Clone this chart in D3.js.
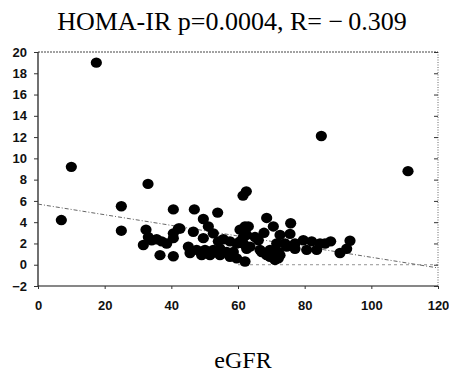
<!DOCTYPE html>
<html>
<head>
<meta charset="utf-8">
<script src="https://cdn.jsdelivr.net/npm/d3@7"></script>
<style>
  body { margin: 0; background: #fff; }
  .tick text { font-family: "Liberation Sans", Arial, sans-serif; font-weight: bold; font-size: 13px; fill: #111; }
  .tick line { stroke: #333; }
</style>
</head>
<body>
<script>
// eGFR (x) and HOMA-IR (y)
const egfr = [17.5, 10, 85, 111, 33, 61.5, 62.5, 25, 7, 25,
  40.6, 46.9, 53.9, 49.6, 51.1, 46.6, 42.1, 40.6, 32.4, 33.1, 35.6, 38.6, 31.6, 36.6, 40.6,
  45.1, 47.6, 50.1, 52.6, 54.1, 52.6, 57.6, 56.6, 59.6, 60.6, 62.1, 61.6, 62.1,
  45.6, 49.1, 51.6, 54.6, 57.6, 59.6,
  40.6, 37.1, 34.1, 42.6, 52.1, 54.6, 58.6, 55.6, 60.6, 62.6, 62.6, 49.6,
  68.6, 75.8, 70.6, 67.8, 75.6, 65.1, 72.6, 71.6, 79.6, 82.1, 84.6, 87.8, 93.6, 92.6, 90.6,
  74.6, 77.1, 80.6, 83.6, 69.6, 66.6, 63.6, 72.6, 71.1, 68.6, 61.6,
  63.1, 66.1, 74.1, 77.1, 86.1, 72.1, 67.1, 69.6, 72.1];
const homa = [19.0, 9.2, 12.1, 8.8, 7.6, 6.5, 6.9, 5.5, 4.2, 3.2,
  5.2, 5.2, 4.9, 4.3, 3.6, 3.1, 3.4, 2.95, 3.3, 2.6, 2.4, 2.0, 1.85, 0.9, 0.8,
  1.7, 1.4, 1.4, 1.4, 2.2, 2.95, 2.2, 1.2, 2.0, 3.3, 3.6, 2.6, 0.3,
  1.1, 0.9, 0.9, 0.9, 0.75, 0.6,
  2.5, 2.2, 2.3, 3.4, 1.2, 1.5, 1.2, 2.4, 2.2, 1.5, 2.8, 2.5,
  4.4, 3.9, 3.6, 3.0, 2.9, 2.6, 2.8, 2.0, 2.3, 2.2, 2.0, 2.2, 2.25, 1.5, 1.1,
  1.7, 1.5, 1.4, 1.4, 1.4, 1.4, 1.7, 0.9, 0.45, 0.9, 2.0,
  3.6, 2.3, 2.0, 2.0, 2.0, 1.2, 1.2, 0.75, 0.6];

// fitted line end points (x, y)
const fitX = [0, 120];
const fitY = [5.7, -0.3];

const xTicks = [0, 20, 40, 60, 80, 100, 120];
const yTicks = [-2, 0, 2, 4, 6, 8, 10, 12, 14, 16, 18, 20];

const titleText = "HOMA-IR p=0.0004, R= \u2212\u20090.309";
const xLabel = "eGFR";

const W = 449, H = 375;
const m = {left: 38, right: 11, top: 52, bottom: 89};

const svg = d3.select("body").append("svg")
  .attr("width", W).attr("height", H);

const x = d3.scaleLinear().domain([0, 120]).range([m.left, W - m.right]);
const y = d3.scaleLinear().domain([-2, 20]).range([H - m.bottom, m.top]);

// frame: top and right dotted, left and bottom solid
svg.append("line")
  .attr("x1", x(0)).attr("x2", x(120)).attr("y1", y(20)).attr("y2", y(20))
  .attr("stroke", "#444").attr("stroke-dasharray", "2,1");
svg.append("line")
  .attr("x1", x(120)).attr("x2", x(120)).attr("y1", y(20)).attr("y2", y(-2))
  .attr("stroke", "#666").attr("stroke-dasharray", "1,1.5");
svg.append("line")
  .attr("x1", x(0)).attr("x2", x(0)).attr("y1", y(20)).attr("y2", y(-2))
  .attr("stroke", "#111").attr("stroke-width", 1.2);
svg.append("line")
  .attr("x1", x(0)).attr("x2", x(120)).attr("y1", y(-2)).attr("y2", y(-2))
  .attr("stroke", "#111").attr("stroke-width", 1.2);

// axes
const yAxis = svg.append("g")
  .attr("transform", "translate(" + x(0) + ",0)")
  .call(d3.axisLeft(y).tickValues(yTicks).tickSize(4).tickPadding(7));
yAxis.select(".domain").remove();

const yAxisR = svg.append("g")
  .attr("transform", "translate(" + x(120) + ",0)")
  .call(d3.axisLeft(y).tickValues(yTicks).tickSize(4).tickFormat(""));
yAxisR.select(".domain").remove();

const xAxis = svg.append("g")
  .attr("transform", "translate(0," + y(-2) + ")")
  .call(d3.axisBottom(x).tickValues(xTicks).tickSize(3).tickPadding(12));
xAxis.select(".domain").remove();

// zero reference, dashed
svg.append("line")
  .attr("x1", x(60)).attr("x2", x(120)).attr("y1", y(0)).attr("y2", y(0))
  .attr("stroke", "#777").attr("stroke-width", 0.8).attr("stroke-dasharray", "3,3");

// regression line
svg.append("line")
  .attr("x1", x(fitX[0])).attr("y1", y(fitY[0]))
  .attr("x2", x(fitX[1])).attr("y2", y(fitY[1]))
  .attr("stroke", "#555").attr("stroke-width", 0.9).attr("stroke-dasharray", "4,2,1,2");

// points
svg.append("g").selectAll("ellipse")
  .data(d3.zip(egfr, homa))
  .enter().append("ellipse")
  .attr("cx", d => x(d[0]))
  .attr("cy", d => y(d[1]))
  .attr("rx", 5.6).attr("ry", 5.2)
  .attr("fill", "#000");

// title and x label
svg.append("text")
  .attr("x", 232).attr("y", 30)
  .attr("text-anchor", "middle")
  .style("font-family", "'Liberation Serif', 'Times New Roman', serif")
  .style("font-size", "26px")
  .text(titleText);

svg.append("text")
  .attr("x", 243).attr("y", 368)
  .attr("text-anchor", "middle")
  .style("font-family", "'Liberation Serif', 'Times New Roman', serif")
  .style("font-size", "24px")
  .text(xLabel);
</script>
</body>
</html>
